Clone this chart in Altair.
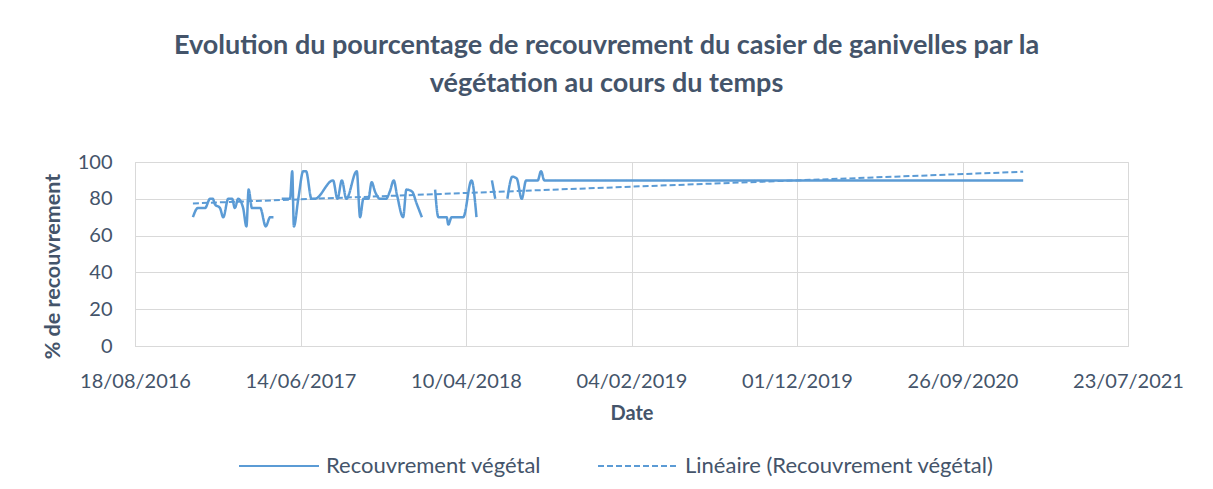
import altair as alt
import pandas as pd

# --- data ---
dates = [
    # segment 1
    "2016-12-01", "2016-12-10", "2016-12-23", "2017-01-01", "2017-01-06", "2017-01-10",
    "2017-01-19", "2017-01-25", "2017-02-03", "2017-02-10", "2017-02-15", "2017-02-21",
    "2017-03-02", "2017-03-08", "2017-03-12", "2017-03-18", "2017-04-02", "2017-04-12",
    "2017-04-20", "2017-04-26",
    # segment 2
    "2017-05-11", "2017-05-26", "2017-05-30", "2017-06-02", "2017-06-10", "2017-06-19",
    "2017-06-24", "2017-07-04", "2017-07-10", "2017-08-12", "2017-08-20", "2017-08-28",
    "2017-09-05", "2017-09-24", "2017-09-30", "2017-10-06", "2017-10-15", "2017-10-21",
    "2017-10-27", "2017-11-05", "2017-11-16", "2017-11-23", "2017-11-30", "2017-12-06",
    "2017-12-17", "2017-12-23", "2018-01-02", "2018-01-11", "2018-01-20",
    # segment 3
    "2018-02-13", "2018-02-19", "2018-03-06", "2018-03-09", "2018-03-15", "2018-04-05",
    "2018-04-20", "2018-04-29",
    # segment 4
    "2018-05-27", "2018-06-02",
    # segment 5
    "2018-06-24", "2018-07-03", "2018-07-11", "2018-07-20", "2018-07-28", "2018-08-18",
    "2018-08-24", "2018-08-30", "2021-01-14",
]
values = [
    70, 75, 75, 80, 80, 77, 75, 70, 80, 80, 75, 80, 75, 65, 85, 75, 75, 65, 70, 70,
    80, 80, 95, 65, 80, 95, 95, 80, 80, 90, 80, 90, 80, 95, 70, 80, 80, 89, 84, 80,
    80, 84, 90, 82, 70, 85, 84, 77, 70,
    85, 70, 70, 66, 70, 70, 90, 70,
    90, 80,
    80, 92, 91, 80, 90, 90, 95, 90, 90,
]
segments = [1] * 20 + [2] * 29 + [3] * 8 + [4] * 2 + [5] * 9

trend_dates = ["2016-12-01", "2021-01-14"]
trend_values = [77.5, 94.7]

series_names = ["Recouvrement végétal", "Linéaire (Recouvrement végétal)"]
tick_dates = [(2016, 8, 18), (2017, 6, 14), (2018, 4, 10), (2019, 2, 4),
              (2019, 12, 1), (2020, 9, 26), (2021, 7, 23)]
y_ticks = [0, 20, 40, 60, 80, 100]

BLUE = "#5b9bd5"
TXT = "#44546a"
FONT = "Lato"

df = pd.DataFrame({"date": dates, "value": values, "segment": segments,
                   "series": series_names[0]})
tf = pd.DataFrame({"date": trend_dates, "value": trend_values,
                   "series": series_names[1], "segment": 0})

def dt(t):
    return alt.DateTime(year=t[0], month=t[1], date=t[2], utc=True)

x_enc = alt.X("date:T",
              scale=alt.Scale(type="utc", domain=[dt(tick_dates[0]), dt(tick_dates[-1])], nice=False),
              axis=alt.Axis(values=[dt(t) for t in tick_dates], format="%d/%m/%Y",
                            title="Date", labelFontSize=20, labelColor=TXT, labelFont=FONT,
                            labelPadding=25, titleFontSize=20, titleFont=FONT, titleColor=TXT,
                            titleFontWeight="bold", titlePadding=12, ticks=False,
                            grid=True, gridColor="#d9d9d9", domainColor="#d9d9d9",
                            labelOverlap=False, labelFlush=False))
y_enc = alt.Y("value:Q",
              scale=alt.Scale(domain=[0, 100], nice=False),
              axis=alt.Axis(values=y_ticks, title="% de recouvrement", labelFontSize=20,
                            labelColor=TXT, labelFont=FONT, labelPadding=23,
                            titleFontSize=21.5, titleFont=FONT, titleColor=TXT,
                            titleFontWeight="bold", titlePadding=13, titleY=104,
                            ticks=False, gridColor="#d9d9d9", domainColor="#d9d9d9"))

leg = alt.Legend(title=None, orient="none", direction="horizontal", legendX=103, legendY=263,
                 symbolType="stroke", symbolSize=6400, symbolStrokeWidth=2,
                 labelFontSize=22, labelFont=FONT, labelColor=TXT, labelOffset=6,
                 labelLimit=0, columnPadding=52)
color_enc = alt.Color("series:N", scale=alt.Scale(domain=series_names, range=[BLUE, BLUE]),
                      legend=leg)
dash_enc = alt.StrokeDash("series:N",
                          scale=alt.Scale(domain=series_names, range=[[1, 0], [6, 3]]),
                          legend=leg)

line = alt.Chart(df).mark_line(strokeWidth=2.5, interpolate="monotone").encode(
    x=x_enc, y=y_enc, color=color_enc, strokeDash=dash_enc, detail="segment:N")
trend = alt.Chart(tf).mark_line(strokeWidth=2).encode(
    x=x_enc, y=y_enc, color=color_enc, strokeDash=dash_enc)

chart = alt.layer(trend, line).properties(
    width=993, height=184,
    autosize=alt.AutoSizeParams(type="none"),
    padding={"left": 127, "top": 154, "right": 70, "bottom": 135},
    title=alt.TitleParams(
        text=["Evolution du pourcentage de recouvrement du casier de ganivelles par la",
              "végétation au cours du temps"],
        fontSize=27, font=FONT, fontWeight="bold", color=TXT, lineHeight=38,
        anchor="middle", dx=-25, offset=54),
).configure_view(stroke=None).configure(background="white")

chart.save("out.html", embed_options={"renderer": "svg", "actions": False})
